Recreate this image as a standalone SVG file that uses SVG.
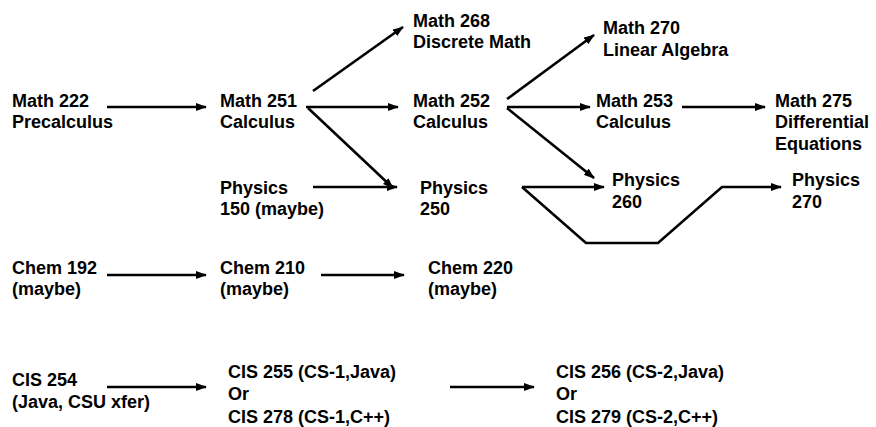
<svg xmlns="http://www.w3.org/2000/svg" width="876" height="427" viewBox="0 0 876 427">
<style>
text{font-family:"Liberation Sans",Arial,sans-serif;font-weight:bold;font-size:18px;fill:#000}
.c{stroke:#000;stroke-width:2.6;fill:none}
</style>
<defs>
<marker id="ah" markerUnits="userSpaceOnUse" markerWidth="11" markerHeight="8" refX="10" refY="4" orient="auto">
<path d="M0,0 L11,4 L0,8 z" fill="#000"/>
</marker>
</defs>
<rect width="876" height="427" fill="#fff"/>
<g id="connectors">
<line class="c" x1="107" y1="107" x2="206" y2="107" marker-end="url(#ah)"/>
<line class="c" x1="313" y1="91" x2="403" y2="27" marker-end="url(#ah)"/>
<line class="c" x1="306" y1="107" x2="398" y2="107" marker-end="url(#ah)"/>
<line class="c" x1="308" y1="108" x2="393" y2="188" marker-end="url(#ah)"/>
<line class="c" x1="313" y1="187" x2="397" y2="187" marker-end="url(#ah)"/>
<line class="c" x1="507" y1="99" x2="594" y2="35" marker-end="url(#ah)"/>
<line class="c" x1="507" y1="107" x2="590" y2="107" marker-end="url(#ah)"/>
<line class="c" x1="507" y1="108" x2="594" y2="178" marker-end="url(#ah)"/>
<line class="c" x1="682" y1="107" x2="765" y2="107" marker-end="url(#ah)"/>
<line class="c" x1="522" y1="187" x2="604" y2="187" marker-end="url(#ah)"/>
<polyline class="c" points="522,187 586,243 658,243 722,187 781,187" marker-end="url(#ah)"/>
<line class="c" x1="107" y1="275" x2="206" y2="275" marker-end="url(#ah)"/>
<line class="c" x1="321" y1="275" x2="404" y2="275" marker-end="url(#ah)"/>
<line class="c" x1="107" y1="387" x2="206" y2="387" marker-end="url(#ah)"/>
<line class="c" x1="450" y1="387" x2="534" y2="387" marker-end="url(#ah)"/>
</g>
<g id="math222"><text x="12" y="107">Math 222</text><text x="12" y="128">Precalculus</text></g>
<g id="math251"><text x="220" y="107">Math 251</text><text x="220" y="128">Calculus</text></g>
<g id="math268"><text x="413" y="27">Math 268</text><text x="413" y="48">Discrete Math</text></g>
<g id="math252"><text x="413" y="107">Math 252</text><text x="413" y="128">Calculus</text></g>
<g id="math270"><text x="603" y="34">Math 270</text><text x="603" y="56">Linear Algebra</text></g>
<g id="math253"><text x="596" y="107">Math 253</text><text x="596" y="128">Calculus</text></g>
<g id="math275"><text x="775" y="107">Math 275</text><text x="775" y="128">Differential</text><text x="775" y="150">Equations</text></g>
<g id="physics150"><text x="220" y="194">Physics</text><text x="220" y="215">150 (maybe)</text></g>
<g id="physics250"><text x="420" y="194">Physics</text><text x="420" y="215">250</text></g>
<g id="physics260"><text x="612" y="186">Physics</text><text x="612" y="208">260</text></g>
<g id="physics270"><text x="792" y="186">Physics</text><text x="792" y="208">270</text></g>
<g id="chem192"><text x="12" y="274">Chem 192</text><text x="12" y="295">(maybe)</text></g>
<g id="chem210"><text x="220" y="274">Chem 210</text><text x="220" y="295">(maybe)</text></g>
<g id="chem220"><text x="428" y="274">Chem 220</text><text x="428" y="295">(maybe)</text></g>
<g id="cis254"><text x="12" y="386">CIS 254</text><text x="12" y="408">(Java, CSU xfer)</text></g>
<g id="cis255"><text x="228" y="378">CIS 255 (CS-1,Java)</text><text x="228" y="400">Or</text><text x="228" y="423">CIS 278 (CS-1,C++)</text></g>
<g id="cis256"><text x="556" y="378">CIS 256 (CS-2,Java)</text><text x="556" y="400">Or</text><text x="556" y="423">CIS 279 (CS-2,C++)</text></g>
</svg>
